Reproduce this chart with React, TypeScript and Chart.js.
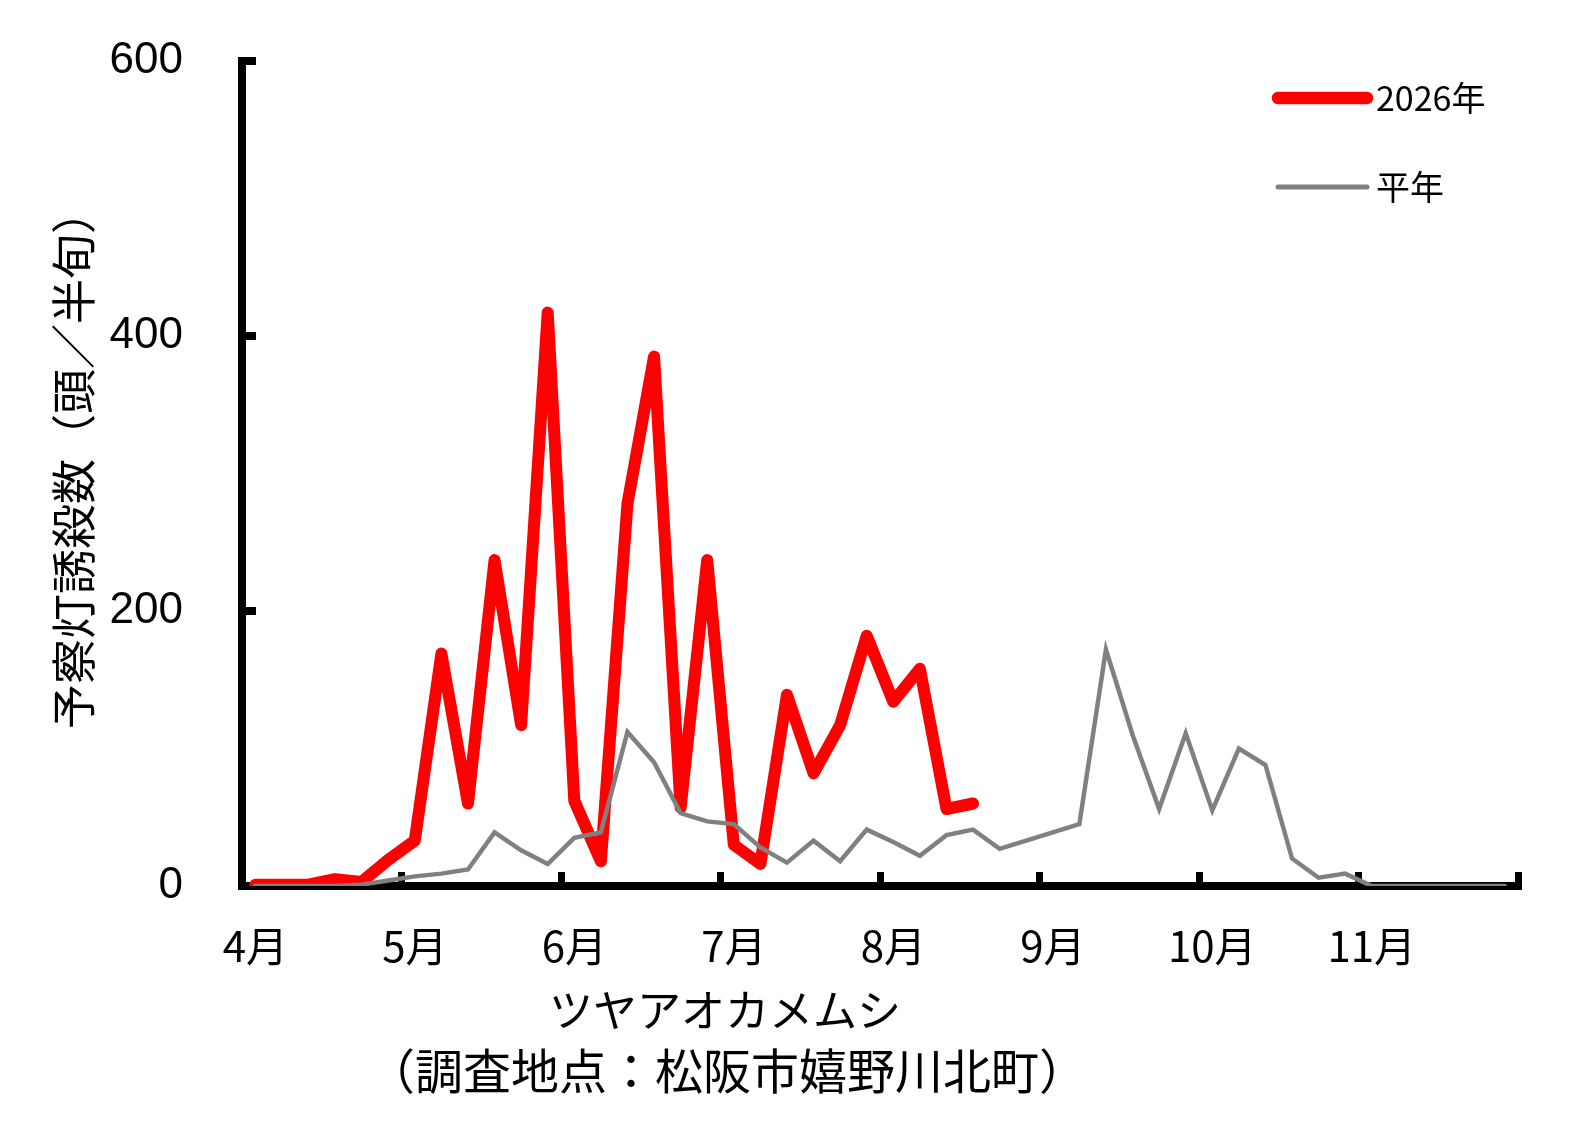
import React, { useEffect, useRef } from 'react';
import { Chart, registerables } from 'chart.js';

Chart.register(...registerables);

// ---- data ----
const months = ['4月', '5月', '6月', '7月', '8月', '9月', '10月', '11月'];
const halfMonthsPerMonth = 6;
const categories = months.flatMap((m) =>
  Array.from({ length: halfMonthsPerMonth }, (_, k) => `${m}第${k + 1}半旬`)
);

const series2026Label = '2026年';
const series2026 = [
  1, 1, 1, 5, 3, 19, 33, 169, 60, 237, 117, 417, 62, 18, 278, 385, 57, 237, 30, 16,
  139, 82, 117, 182, 134, 158, 56, 60,
];

const normalLabel = '平年';
const normalYear = [
  0, 0, 0, 0, 1, 4, 7, 9, 12, 39, 26, 16, 35, 39, 112, 90, 53, 47, 45, 28,
  17, 33, 18, 41, 32, 22, 37, 41, 27, 33, 39, 45, 172, 110, 56, 111, 55, 100, 88, 20,
  6, 9, 0, 0, 0, 0, 0, 0,
];

const yTicks = [0, 200, 400, 600];
const yTitle = '予察灯誘殺数（頭／半旬）';
const xTitleLines = ['ツヤアオカメムシ', '（調査地点：松阪市嬉野川北町）'];

const JP = '"Noto Sans CJK JP", "Noto Sans", sans-serif';
const NUM = '"Liberation Sans", Arial, sans-serif';

const decorPlugin = {
  id: 'decor',
  afterDraw(chart: any) {
    const ctx = chart.ctx as CanvasRenderingContext2D;
    ctx.save();
    ctx.fillStyle = '#000';
    // legend
    const rows = [98, 187];
    const widths = [12.5, 5];
    chart.data.datasets.forEach((ds: any, i: number) => {
      const y = rows[i];
      ctx.strokeStyle = ds.borderColor;
      ctx.lineWidth = widths[i];
      ctx.lineCap = 'round';
      ctx.beginPath();
      ctx.moveTo(1278, y);
      ctx.lineTo(1367, y);
      ctx.stroke();
      ctx.font = `34px ${JP}`;
      ctx.textAlign = 'left';
      ctx.textBaseline = 'middle';
      ctx.fillText(ds.label, 1376, y);
    });
    // y title
    ctx.save();
    ctx.translate(74, 459);
    ctx.rotate(-Math.PI / 2);
    ctx.font = `45px ${JP}`;
    ctx.textAlign = 'center';
    ctx.textBaseline = 'middle';
    ctx.fillText(yTitle, 0, 0);
    ctx.restore();
    // x title
    ctx.textAlign = 'center';
    ctx.textBaseline = 'middle';
    ctx.font = `44px ${JP}`;
    ctx.fillText(xTitleLines[0], 725, 1010);
    ctx.font = `48px ${JP}`;
    ctx.fillText(xTitleLines[1], 727, 1071);
    ctx.restore();
  },
};

const zeroPadding = (scale: any) => {
  scale.paddingTop = 0;
  scale.paddingBottom = 0;
  scale.paddingLeft = 0;
  scale.paddingRight = 0;
};

export default function App() {
  const ref = useRef<HTMLCanvasElement | null>(null);

  useEffect(() => {
    if (!ref.current) return;
    const monthTickColor = (c: any) =>
      c.index === undefined || c.index % halfMonthsPerMonth === 0 ? '#000' : 'rgba(0,0,0,0)';
    const chart = new Chart(ref.current, {
      type: 'line',
      data: {
        labels: categories,
        datasets: [
          {
            label: series2026Label,
            data: series2026,
            borderColor: '#ff0000',
            backgroundColor: '#ff0000',
            borderWidth: 12,
            borderJoinStyle: 'round',
            borderCapStyle: 'round',
            pointRadius: 0,
            tension: 0,
            fill: false,
            order: 1,
          },
          {
            label: normalLabel,
            data: normalYear,
            borderColor: '#808080',
            backgroundColor: '#808080',
            borderWidth: 4.5,
            borderJoinStyle: 'miter',
            borderCapStyle: 'round',
            pointRadius: 0,
            tension: 0,
            fill: false,
            order: 0,
          },
        ],
      },
      options: {
        responsive: false,
        animation: false,
        events: [],
        layout: { padding: { top: 61, right: 64, left: 0, bottom: 0 } },
        plugins: {
          legend: { display: false },
          tooltip: { enabled: false },
          title: { display: false },
        },
        scales: {
          x: {
            type: 'category',
            offset: true,
            grid: {
              offset: true,
              drawOnChartArea: false,
              drawTicks: true,
              tickLength: -14,
              lineWidth: 7,
              tickWidth: 7,
              color: monthTickColor,
              tickColor: monthTickColor,
            },
            border: { display: true, color: '#000', width: 8 },
            ticks: {
              autoSkip: false,
              maxRotation: 0,
              minRotation: 0,
              padding: 49,
              color: '#000',
              font: { family: JP, size: 42 },
              callback: (_v: any, i: number) =>
                i % halfMonthsPerMonth === 0 ? months[i / halfMonthsPerMonth] : '',
            },
            afterFit: (scale: any) => {
              scale.height = 253;
              zeroPadding(scale);
            },
          },
          y: {
            min: 0,
            max: 600,
            afterBuildTicks: (scale: any) => {
              scale.ticks = yTicks.map((v) => ({ value: v }));
            },
            grid: {
              drawOnChartArea: false,
              drawTicks: true,
              tickLength: -14,
              lineWidth: 8,
              tickWidth: 8,
              color: '#000',
              tickColor: '#000',
            },
            border: { display: true, color: '#000', width: 8 },
            ticks: {
              padding: 73,
              color: '#000',
              font: { family: NUM, size: 44 },
            },
            afterFit: (scale: any) => {
              scale.width = 242;
              zeroPadding(scale);
            },
          },
        },
      } as any,
      plugins: [decorPlugin],
    });
    return () => chart.destroy();
  }, []);

  return (
    <div
      style={{
        position: 'fixed',
        left: 0,
        top: 0,
        width: 1582,
        height: 1139,
        background: '#fff',
      }}
    >
      <canvas ref={ref} width={1582} height={1139} style={{ display: 'block' }} />
    </div>
  );
}
